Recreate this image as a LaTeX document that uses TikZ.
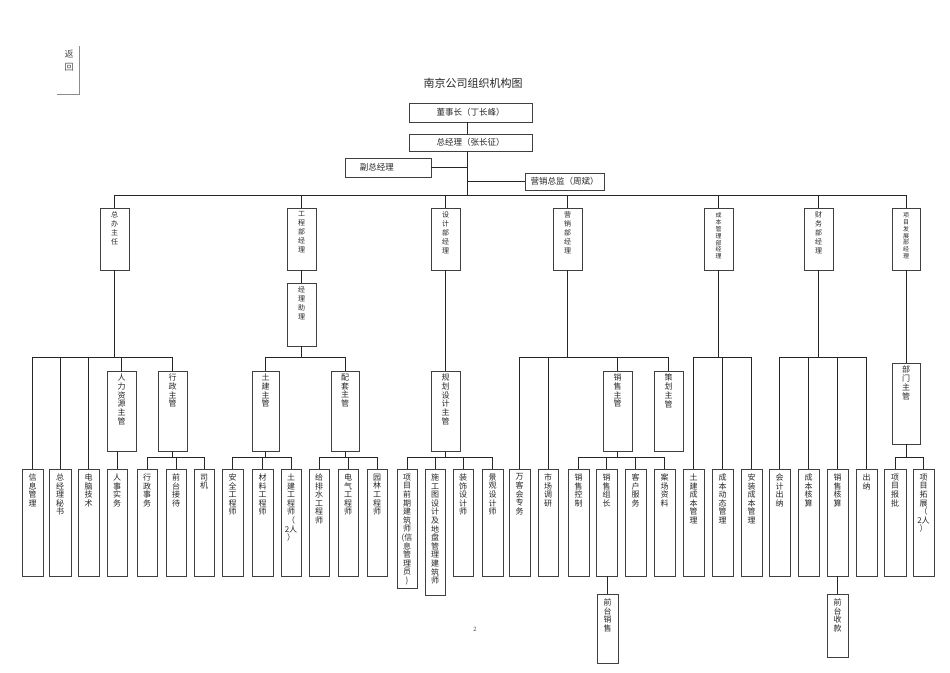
\documentclass[tikz,border=0pt]{standalone}
\usepackage{fontspec}
\setmainfont{Noto Sans CJK SC}
\usetikzlibrary{fit,shadows}
\tikzset{
  boxst/.style={draw=black!75, line width=0.7pt, fill=white, inner sep=0pt,
    drop shadow={shadow xshift=0.9pt, shadow yshift=-0.9pt, opacity=0.75, fill=black!70}},
  ln/.style={draw=black!85, line width=0.85pt},
  vtb/.style={font=\fontsize{8}{8.6}\selectfont, align=center, inner sep=0pt, text=black!85},
  vtm/.style={font=\fontsize{8}{8.8}\selectfont, align=center, inner sep=0pt, text=black!85},
  vtl/.style={font=\fontsize{7}{9}\selectfont, align=center, inner sep=0pt, text=black!85},
  vts/.style={font=\fontsize{6}{6.8}\selectfont, align=center, inner sep=0pt, text=black!85},
  htx/.style={font=\fontsize{8.5}{10}\selectfont, inner sep=0pt, text=black!85}
}
% box: [text style]{name}{x1}{y1}{x2}{y2}{text}{top offset}
\newcommand\bx[8][vtb]{%
  \node[boxst, fit={(#3,#4) (#5,#6)}] (#2) {};
  \node[#1, anchor=north] (#2t) at ([yshift=-#8pt]#2.north) {#7};
}
\begin{document}
\begin{tikzpicture}[x=1pt,y=-1pt]
\useasboundingbox (0,0) rectangle (950,672);

% back link
\node[font=\fontsize{9}{13}\selectfont, align=center, text=black!70, inner sep=0pt] (fh) at (69,61) {返\\回};
\coordinate (fa) at (79,46); \coordinate (fb) at (79,94); \coordinate (fc) at (57,94);
\draw[draw=black!45, line width=0.6pt] (fa) -- (fb) -- (fc);

% title
\node[font=\fontsize{11}{13}\selectfont, text=black!85] (title) at (473,83) {南京公司组织机构图};

% top boxes
\node[boxst, fit={(409,103) (532,122)}] (dsz) {};
\node[htx] at (dsz) {董事长（丁长峰）};
\node[boxst, fit={(409,134) (532,151)}] (zjl) {};
\node[htx] at (zjl) {总经理（张长征）};
\node[boxst, fit={(345,158) (431,177)}] (fzjl) {};
\node[htx, anchor=west] at ([xshift=15pt]fzjl.west) {副总经理};
\node[boxst, fit={(525,173) (604,190)}] (yxzj) {};
\node[htx] at (yxzj) {营销总监（周斌）};

\coordinate (t) at (467,195);
\draw[ln] (dsz.south -| t) -- (zjl.north -| t);
\draw[ln] (zjl.south -| t) -- (t);
\draw[ln] (fzjl.east) -- (fzjl.east -| t);
\draw[ln] (yxzj.west) -- (yxzj.west -| t);

% level 1
\bx[vtl]{zb}{100}{208}{129}{270}{总\\办\\主\\任}{4}
\bx[vtl]{gc}{287}{208}{316}{270}{工\\程\\部\\经\\理}{4}
\bx[vtl]{sj}{431}{208}{460}{270}{设\\计\\部\\经\\理}{4}
\bx[vtl]{yx}{553}{208}{582}{270}{营\\销\\部\\经\\理}{4}
\bx[vts]{cb}{704}{208}{733}{270}{成\\本\\管\\理\\部\\经\\理}{5}
\bx[vtl]{cw}{804}{208}{833}{270}{财\\务\\部\\经\\理}{4}
\bx[vts]{xm}{892}{208}{920}{270}{项\\目\\发\\展\\部\\经\\理}{5}
\bx[vtl]{gczl}{287}{283}{316}{346}{经\\理\\助\\理}{4}

\coordinate (b1) at (0,195);
\draw[ln] (zb.north |- b1) -- (xm.north |- b1);
\foreach \n in {zb,gc,sj,yx,cb,cw,xm} \draw[ln] (\n.north) -- (\n.north |- b1);

% level 2
\bx[vtm]{rl}{107}{371}{136}{451}{人\\力\\资\\源\\主\\管}{3}
\bx[vtm]{xz}{158}{371}{187}{451}{行\\政\\主\\管}{3}
\bx[vtm]{tj}{252}{371}{279}{451}{土\\建\\主\\管}{3}
\bx[vtm]{pt}{331}{371}{359}{451}{配\\套\\主\\管}{3}
\bx[vtm]{gh}{431}{371}{460}{451}{规\\划\\设\\计\\主\\管}{3}
\bx[vtm]{xs}{603}{371}{632}{451}{销\\售\\主\\管}{3}
\bx[vtm]{ch}{654}{371}{683}{451}{策\\划\\主\\管}{3}
\bx[vtm]{bm}{892}{363}{920}{444}{部\\门\\主\\管}{3}

% bottom row
\bx{xxgl}{22}{469}{43}{576}{信\\息\\管\\理}{5}
\bx{zjms}{49}{469}{71}{576}{总\\经\\理\\秘\\书}{5}
\bx{dnjs}{78}{469}{99}{576}{电\\脑\\技\\术}{5}
\bx{rssw}{107}{469}{127}{576}{人\\事\\实\\务}{5}
\bx{xzsw}{137}{469}{157}{576}{行\\政\\事\\务}{5}
\bx{qtjd}{166}{469}{186}{576}{前\\台\\接\\待}{5}
\bx{siji}{194}{469}{214}{576}{司\\机}{5}
\bx{aqgc}{222}{469}{243}{576}{安\\全\\工\\程\\师}{5}
\bx{clgc}{252}{469}{273}{576}{材\\料\\工\\程\\师}{5}
\bx{tjgc}{281}{469}{301}{576}{土\\建\\工\\程\\师\\（\\2人\\）}{5}
\bx{gpsg}{309}{469}{329}{576}{给\\排\\水\\工\\程\\师}{5}
\bx{dqgc}{338}{469}{358}{576}{电\\气\\工\\程\\师}{5}
\bx{ylgc}{367}{469}{387}{576}{园\\林\\工\\程\\师}{5}
\bx{xmqq}{397}{469}{417}{588}{项\\目\\前\\期\\建\\筑\\师\\(信\\息\\管\\理\\员\\)}{5}
\bx{sgtu}{425}{469}{445}{595}{施\\工\\图\\设\\计\\及\\地\\盘\\管\\理\\建\\筑\\师}{5}
\bx{zssj}{453}{469}{473}{576}{装\\饰\\设\\计\\师}{5}
\bx{jgsj}{482}{469}{503}{576}{景\\观\\设\\计\\师}{5}
\bx{wkh}{509}{469}{530}{576}{万\\客\\会\\专\\务}{5}
\bx{scdy}{538}{469}{558}{576}{市\\场\\调\\研}{5}
\bx{xskz}{568}{469}{589}{576}{销\\售\\控\\制}{5}
\bx{xszz}{596}{469}{617}{576}{销\\售\\组\\长}{5}
\bx{khfw}{625}{469}{646}{576}{客\\户\\服\\务}{5}
\bx{aczl}{654}{469}{675}{576}{案\\场\\资\\料}{5}
\bx{tjcb}{683}{469}{704}{576}{土\\建\\成\\本\\管\\理}{5}
\bx{cbdt}{712}{469}{733}{576}{成\\本\\动\\态\\管\\理}{5}
\bx{azcb}{741}{469}{762}{576}{安\\装\\成\\本\\管\\理}{5}
\bx{kjcn}{769}{469}{790}{576}{会\\计\\出\\纳}{5}
\bx{cbhs}{798}{469}{819}{576}{成\\本\\核\\算}{5}
\bx{xshs}{827}{469}{848}{576}{销\\售\\核\\算}{5}
\bx{chun}{856}{469}{877}{576}{出\\纳}{5}
\bx{xmbp}{884}{469}{906}{576}{项\\目\\报\\批}{5}
\bx{xmtz}{913}{469}{934}{576}{项\\目\\拓\\展\\（\\2人\\）}{5}

\bx{qtxs}{597}{594}{618}{663}{前\\台\\销\\售}{5}
\bx{qtsk}{827}{594}{848}{657}{前\\台\\收\\款}{5}

% level1 -> level2
\coordinate (b2) at (0,357);
\draw[ln] (zb.south) -- (zb.south |- b2);
\foreach \c in {xxgl,zjms,dnjs,rl,xz} \draw[ln] (zb.south |- b2) -| (\c.north);
\draw[ln] (gc.south) -- (gczl.north);
\draw[ln] (gczl.south) -- (gczl.south |- b2);
\foreach \c in {tj,pt} \draw[ln] (gczl.south |- b2) -| (\c.north);
\draw[ln] (sj.south) -- (gh.north);
\draw[ln] (yx.south) -- (yx.south |- b2);
\foreach \c in {wkh,scdy,xs,ch} \draw[ln] (yx.south |- b2) -| (\c.north);
\draw[ln] (cb.south) -- (cb.south |- b2);
\foreach \c in {tjcb,cbdt,azcb} \draw[ln] (cb.south |- b2) -| (\c.north);
\draw[ln] (cw.south) -- (cw.south |- b2);
\foreach \c in {kjcn,cbhs,xshs,chun} \draw[ln] (cw.south |- b2) -| (\c.north);
\draw[ln] (xm.south) -- (bm.north);

% level2 -> bottom
\coordinate (b3) at (0,457);
\draw[ln] (rssw.north |- rl.south) -- (rssw.north);
\draw[ln] (xz.south) -- (xz.south |- b3);
\foreach \c in {xzsw,qtjd,siji} \draw[ln] (xz.south |- b3) -| (\c.north);
\draw[ln] (tj.south) -- (tj.south |- b3);
\foreach \c in {aqgc,clgc,tjgc} \draw[ln] (tj.south |- b3) -| (\c.north);
\draw[ln] (pt.south) -- (pt.south |- b3);
\foreach \c in {gpsg,dqgc,ylgc} \draw[ln] (pt.south |- b3) -| (\c.north);
\draw[ln] (gh.south) -- (gh.south |- b3);
\foreach \c in {xmqq,sgtu,zssj,jgsj} \draw[ln] (gh.south |- b3) -| (\c.north);
\draw[ln] (xs.south) -- (xs.south |- b3);
\foreach \c in {xskz,xszz,khfw,aczl} \draw[ln] (xs.south |- b3) -| (\c.north);
\draw[ln] (bm.south) -- (bm.south |- b3);
\foreach \c in {xmbp,xmtz} \draw[ln] (bm.south |- b3) -| (\c.north);

\draw[ln] (qtxs.north |- xszz.south) -- (qtxs.north);
\draw[ln] (qtsk.north |- xshs.south) -- (qtsk.north);

% page number
\node[font=\fontsize{6}{7}\selectfont, text=black!70] (pg) at (475,629) {2};
\end{tikzpicture}
\end{document}
